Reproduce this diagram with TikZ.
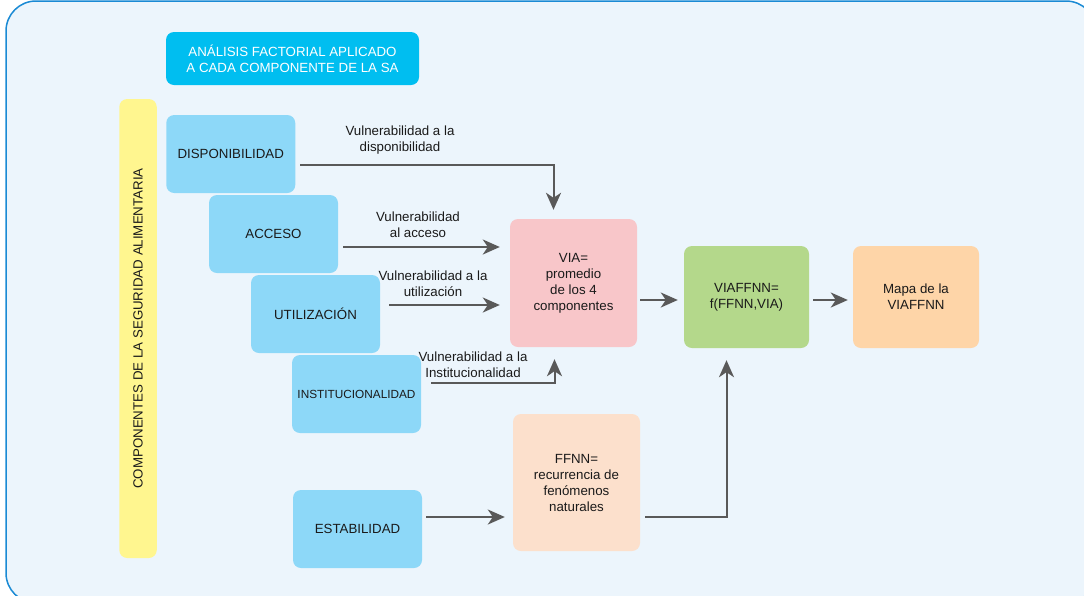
\documentclass[tikz,border=0pt]{standalone}
\usepackage{fontspec}
\setmainfont{Liberation Sans}
\usetikzlibrary{arrows.meta}

\definecolor{framefill}{HTML}{ECF5FC}
\definecolor{frameline}{HTML}{1A8AD4}
\definecolor{titlecyan}{HTML}{00BEF0}
\definecolor{compblue}{HTML}{8DD8F8}
\definecolor{baryellow}{HTML}{FFF68F}
\definecolor{viapink}{HTML}{F8C6C9}
\definecolor{viagreen}{HTML}{B4D88B}
\definecolor{mapaorange}{HTML}{FED5A8}
\definecolor{ffnnpeach}{HTML}{FCE0CC}
\definecolor{arrgray}{HTML}{595959}
\definecolor{txt}{HTML}{1A1A1A}

\begin{document}
\begin{tikzpicture}[x=1pt,y=-1pt]
  \tikzset{box/.style={rounded corners=8pt, align=center, inner sep=0pt, text=txt,
      font=\fontsize{13.3}{16}\selectfont},
    comp/.style={box, fill=compblue, minimum width=129pt, minimum height=78pt},
    lbl/.style={align=center, text=txt, font=\fontsize{13.3}{16}\selectfont},
    arr/.style={draw=arrgray, line width=2pt, -{Stealth[length=17pt,width=15pt,inset=5pt]}}}
  \useasboundingbox (0,0) rectangle (1084,595);
  % marco de fondo
  \begin{scope}
    \clip (0,0) rectangle (1084,595);
    \draw[fill=framefill, draw=frameline, line width=1.5pt, rounded corners=30pt]
      (6,1) rectangle (1096,603);
  \end{scope}
  \node[box, fill=titlecyan, text=white, minimum width=253pt, minimum height=53pt]
    (titulo) at (292.5,58.5) {ANÁLISIS FACTORIAL APLICADO\\A CADA COMPONENTE DE LA SA};
  \node[box, fill=baryellow, rotate=90, minimum width=459pt, minimum height=37.5pt]
    (barra) at (138,328.5) {COMPONENTES DE LA SEGURIDAD ALIMENTARIA};
  % componentes
  \node[comp] (disp) at (230.75,154) {DISPONIBILIDAD};
  \node[comp] (acceso) at (273.5,234) {ACCESO};
  \node[comp] (util) at (315.5,314) {UTILIZACIÓN};
  \node[comp, font=\fontsize{11.8}{14}\selectfont] (inst) at (356.5,394) {INSTITUCIONALIDAD};
  \node[comp] (estab) at (357.5,529) {ESTABILIDAD};
  % resultados
  \node[box, fill=viapink, minimum width=127pt, minimum height=128pt]
    (via) at (573.5,283) {VIA=\\promedio\\de los 4\\componentes};
  \node[box, fill=ffnnpeach, minimum width=127pt, minimum height=137pt]
    (ffnn) at (576.5,482.5) {FFNN=\\recurrencia de\\fenómenos\\naturales};
  \node[box, fill=viagreen, minimum width=125pt, minimum height=102pt]
    (viaffnn) at (746.5,297) {VIAFFNN=\\f(FFNN,VIA)};
  \node[box, fill=mapaorange, minimum width=126pt, minimum height=102pt]
    (mapa) at (916,297) {Mapa de la\\VIAFFNN};
  % etiquetas
  \node[lbl] (ldisp) at (400,140) {Vulnerabilidad a la\\disponibilidad};
  \node[lbl] (lacceso) at (418,224.5) {Vulnerabilidad\\al acceso};
  \node[lbl] (lutil) at (433,284) {Vulnerabilidad a la\\utilización};
  \node[lbl] (linst) at (473,364.5) {Vulnerabilidad a la\\Institucionalidad};
  % flechas
  \path ([shift={(5,11)}]disp.east) coordinate (d0)
        ([shift={(5,13)}]acceso.east) coordinate (a0)
        ([shift={(9,-9)}]util.east) coordinate (u0)
        ([shift={(10,-11)}]inst.east) coordinate (i0)
        ([shift={(4,-12)}]estab.east) coordinate (e0)
        ([shift={(5,34.5)}]ffnn.east) coordinate (f0)
        ([shift={(3,17)}]via.east) coordinate (v0);
  \draw[arr] (d0) -| ([shift={(-20,-9)}]via.north);
  \draw[arr, shorten >=10pt] (a0) -- (a0 -| via.west);
  \draw[arr, shorten >=10pt] (u0) -- (u0 -| via.west);
  \draw[arr] (i0) -| ([shift={(-19,12)}]via.south);
  \draw[arr, shorten >=8pt] (e0) -- (e0 -| ffnn.west);
  \draw[arr] (f0) -| ([shift={(-20,12)}]viaffnn.south);
  \draw[arr, shorten >=6pt] (v0) -- (v0 -| viaffnn.west);
  \draw[arr] ([shift={(4,3)}]viaffnn.east) -- ([shift={(-5,3)}]mapa.west);
\end{tikzpicture}
\end{document}
